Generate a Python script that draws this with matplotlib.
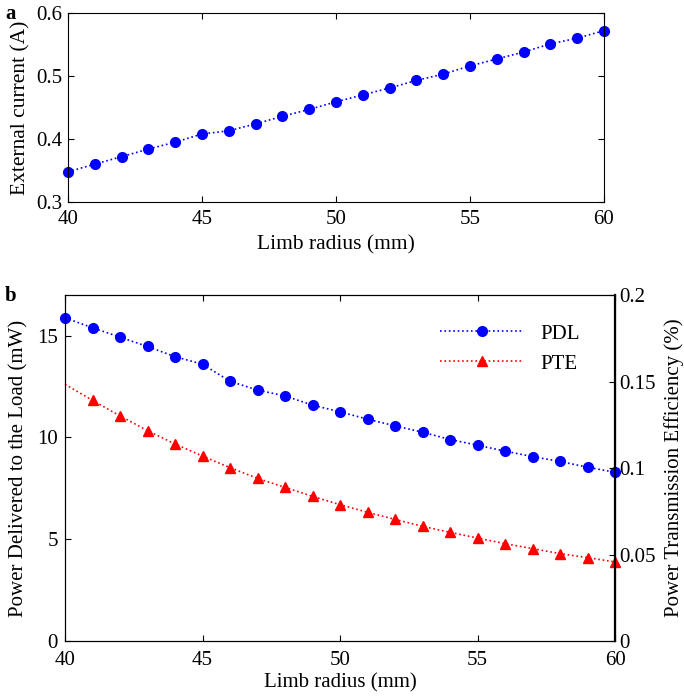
import matplotlib
matplotlib.use("Agg")
import matplotlib.pyplot as plt

plt.rcParams['font.family'] = ['Liberation Serif', 'DejaVu Serif']
plt.rcParams['mathtext.fontset'] = 'stix'

radius = list(range(40, 61))
current = [0.348, 0.360, 0.372, 0.384, 0.395, 0.408, 0.413, 0.424, 0.436, 0.447,
           0.459, 0.470, 0.481, 0.493, 0.503, 0.516, 0.527, 0.538, 0.551, 0.560, 0.572]
pdl = [15.88, 15.39, 14.93, 14.47, 13.97, 13.60, 12.76, 12.33, 12.04, 11.59,
       11.26, 10.90, 10.57, 10.26, 9.90, 9.62, 9.33, 9.06, 8.82, 8.54, 8.29]
pte = [0.1484, 0.1391, 0.1301, 0.1216, 0.1139, 0.1069, 0.1002, 0.0940, 0.0888, 0.0836,
       0.0788, 0.0744, 0.0703, 0.0663, 0.0628, 0.0595, 0.0563, 0.0534, 0.0505, 0.0482, 0.0457]

tfs = 15
lfs = 15.5
fig = plt.figure(figsize=(6.84, 6.96), dpi=100)
W, H = 684, 696

def frac(l, t, r, b):
    return [l / W, 1 - b / H, (r - l) / W, (b - t) / H]

# Panel a
ax1 = fig.add_axes(frac(68, 13, 604, 202))
ax1.plot(radius, current, linestyle=':', color='blue', linewidth=1.2,
         marker='o', markersize=7, clip_on=False)
ax1.set_xlim(40, 60)
ax1.set_ylim(0.3, 0.6)
ax1.set_xticks([40, 45, 50, 55, 60])
ax1.set_yticks([0.3, 0.4, 0.5, 0.6])
ax1.set_yticklabels(['0.3', '0.4', '0.5', '0.6'])
ax1.tick_params(direction='in', top=True, right=True, labelsize=tfs, length=4)
ax1.tick_params(axis='x', pad=6)
ax1.tick_params(axis='y', pad=4)
ax1.set_xlabel('Limb radius (mm)', fontsize=lfs, labelpad=4)
ax1.set_ylabel('External current (A)', fontsize=lfs, labelpad=4)
fig.text(5 / W, 1 - 14 / H, 'a', fontsize=tfs, fontweight='bold', va='center', ha='left')

# Panel b
ax2 = fig.add_axes(frac(65, 295, 615, 641))
l1, = ax2.plot(radius, pdl, linestyle=':', color='blue', linewidth=1.2,
               marker='o', markersize=7, clip_on=False, label='PDL')
ax2.set_xlim(40, 60)
ax2.set_ylim(0, 17)
ax2.set_xticks([40, 45, 50, 55, 60])
ax2.set_yticks([0, 5, 10, 15])
ax2.tick_params(direction='in', top=True, right=False, labelsize=tfs, length=4)
ax2.tick_params(axis='x', pad=7.5)
ax2.tick_params(axis='y', pad=5)
ax2.set_xlabel('Limb radius (mm)', fontsize=lfs - 0.5, labelpad=2)
ax2.set_ylabel('Power Delivered to the Load (mW)', fontsize=lfs - 0.5, labelpad=6)

ax3 = ax2.twinx()
l2, = ax3.plot(radius, pte, linestyle=':', color='red', linewidth=1.2,
               marker='^', markersize=7, clip_on=False, label='PTE',
               markevery=list(range(1, len(radius))))
ax3.set_ylim(0, 0.2)
ax3.set_yticks([0, 0.05, 0.1, 0.15, 0.2])
ax3.set_yticklabels(['0', '0.05', '0.1', '0.15', '0.2'])
ax3.tick_params(direction='in', labelsize=tfs, length=4, pad=3)
ax3.set_ylabel('Power Transmission Efficiency (%)', fontsize=lfs - 0.5, labelpad=6)
ax3.spines['right'].set_linewidth(1.6)

ax2.legend([l1, l2], ['PDL', 'PTE'], loc='upper right', frameon=False,
           fontsize=tfs, handlelength=4, bbox_to_anchor=(0.97, 0.97))
fig.text(5 / W, 1 - 296 / H, 'b', fontsize=tfs, fontweight='bold', va='center', ha='left')

fig.savefig('out.png', dpi=100)
